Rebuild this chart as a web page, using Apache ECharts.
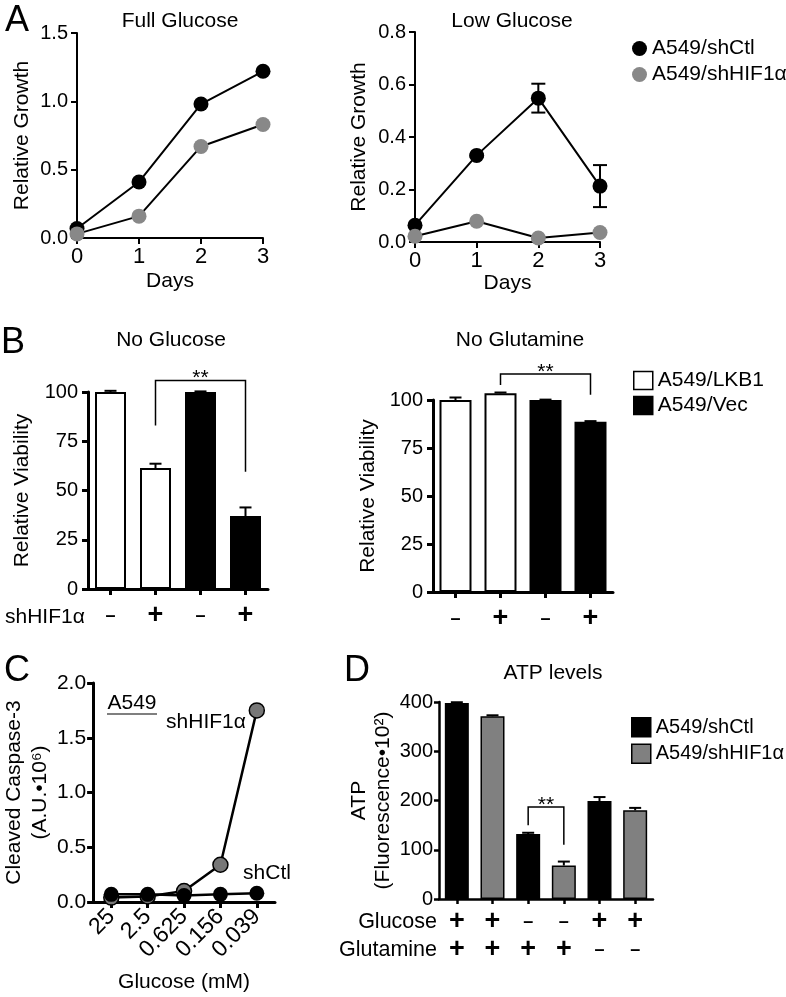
<!DOCTYPE html>
<html><head><meta charset="utf-8">
<script src="https://cdn.jsdelivr.net/npm/echarts@6/dist/echarts.min.js"></script>
<style>html,body{margin:0;padding:0;background:#fff}#c{width:786px;height:997px}</style>
</head><body><div id="c"></div>
<script>
// ---------- Panel A: growth ----------
const days = [0, 1, 2, 3];
const fullCtl = [0.07, 0.41, 0.98, 1.22];
const fullHif = [0.03, 0.16, 0.67, 0.83];
const lowCtl = [0.064, 0.33, 0.548, 0.213];
const lowCtlErr = [0.005, 0.005, 0.055, 0.08];
const lowHif = [0.022, 0.079, 0.015, 0.036];
// ---------- Panel B: viability ----------
const bGroups = ['A549/LKB1', 'A549/LKB1', 'A549/Vec', 'A549/Vec'];
const bShHIF = ['-', '+', '-', '+'];
const noGlc = [100, 61.4, 100, 37];
const noGlcErr = [0.6, 2.2, 0.3, 4.4];
const noGln = [100, 103.5, 100, 88.7];
const noGlnErr = [1.3, 0.4, 0.2, 0.3];
// ---------- Panel C: caspase ----------
const glucoseMM = ['25', '2.5', '0.625', '0.156', '0.039'];
const cCtl = [0.07, 0.07, 0.06, 0.07, 0.08];
const cHif = [0.04, 0.05, 0.1, 0.34, 1.75];
// ---------- Panel D: ATP ----------
const dGroups = ['A549/shCtl', 'A549/shHIF1α', 'A549/shCtl', 'A549/shHIF1α', 'A549/shCtl', 'A549/shHIF1α'];
const dGlucose = ['+', '+', '-', '-', '+', '+'];
const dGlutamine = ['+', '+', '+', '+', '-', '-'];
const atp = [398, 371, 132, 68, 199, 180];
const atpErr = [1.5, 2, 2.5, 8, 8, 5];
// significance brackets: [leftCat, rightCat, leftFoot, rightFoot, top]
const bracketB1 = [1, 3, 83, 59.5, 105.8];
const bracketB2 = [1, 3, 107.8, 102.7, 113.6];
const bracketD = [2, 3, 150, 110, 187];

const FONT = '"Liberation Sans", Arial, Helvetica, sans-serif';
const BLK = '#000';
const NAME_FS = 21;

function yAx(o) {
  return {
    type: 'value', gridIndex: o.g, min: o.min, max: o.max, interval: o.iv,
    axisLine: { show: true, onZero: false, lineStyle: { color: BLK, width: o.lw } },
    axisTick: { show: true, length: o.tl || 6, lineStyle: { color: BLK, width: o.lw } },
    splitLine: { show: false },
    axisLabel: { color: BLK, fontSize: o.fs || 20, margin: o.m || 9, fontFamily: FONT, formatter: o.fmt },
    name: o.name, nameLocation: 'middle', nameGap: o.ng, nameRotate: 90,
    nameTextStyle: { color: BLK, fontSize: NAME_FS, fontFamily: FONT, lineHeight: o.lh || 22 }
  };
}
function catX(o) {
  return {
    type: 'category', gridIndex: o.g, data: o.data, boundaryGap: true,
    axisLine: { show: true, onZero: false, lineStyle: { color: BLK, width: o.lw } },
    axisTick: { show: true, alignWithLabel: true, length: o.tl || 6, lineStyle: { color: BLK, width: o.lw } },
    splitLine: { show: false },
    axisLabel: Object.assign({ color: BLK, fontFamily: FONT, interval: 0 }, o.label),
    name: o.name, nameLocation: 'middle', nameGap: o.ng,
    nameTextStyle: { color: BLK, fontSize: NAME_FS, fontFamily: FONT }
  };
}
function valX(o) {
  return {
    type: 'value', gridIndex: o.g, min: 0, max: 3, interval: 1,
    axisLine: { show: true, onZero: false, lineStyle: { color: BLK, width: 2 } },
    axisTick: { show: true, length: 6, lineStyle: { color: BLK, width: 2 } },
    splitLine: { show: false },
    axisLabel: { color: BLK, fontSize: 22, margin: 8, fontFamily: FONT },
    name: 'Days', nameLocation: 'middle', nameGap: o.ng,
    nameTextStyle: { color: BLK, fontSize: NAME_FS, fontFamily: FONT }
  };
}
function errSeries(xi, data, both, cap, lw) {
  return {
    type: 'custom', xAxisIndex: xi, yAxisIndex: xi, z: 5, clip: false, silent: true,
    data: data,
    renderItem: function (params, api) {
      const x = api.value(0), v = api.value(1), e = api.value(2);
      const top = api.coord([x, v + e]);
      const bot = api.coord([x, both ? v - e : v]);
      const st = { stroke: BLK, lineWidth: lw };
      const ch = [
        { type: 'line', shape: { x1: top[0], y1: top[1], x2: bot[0], y2: bot[1] }, style: st },
        { type: 'line', shape: { x1: top[0] - cap / 2, y1: top[1], x2: top[0] + cap / 2, y2: top[1] }, style: st }
      ];
      if (both) ch.push({ type: 'line', shape: { x1: bot[0] - cap / 2, y1: bot[1], x2: bot[0] + cap / 2, y2: bot[1] }, style: st });
      return { type: 'group', children: ch };
    }
  };
}
function bracketSeries(xi, b) {
  return {
    type: 'custom', xAxisIndex: xi, yAxisIndex: xi, z: 6, clip: false, silent: true,
    data: [[b[0], b[4], b[1], b[2], b[3]]],
    renderItem: function (params, api) {
      const x1 = api.value(0), top = api.value(1), x2 = api.value(2), yl = api.value(3), yr = api.value(4);
      const p1 = api.coord([x1, yl]), p2 = api.coord([x1, top]), p3 = api.coord([x2, top]), p4 = api.coord([x2, yr]);
      return { type: 'group', children: [
        { type: 'polyline', shape: { points: [p1, p2, p3, p4] }, style: { stroke: BLK, lineWidth: 1.5, fill: null } },
        { type: 'text', style: { text: '**', x: (p2[0] + p3[0]) / 2, y: p2[1] - 2, textAlign: 'center', textVerticalAlign: 'middle', font: '21px ' + FONT, fill: BLK } }
      ] };
    }
  };
}
function signLabel(arr) {
  return function (v, i) { return arr[i] === '+' ? '{p|+}' : '{m|–}'; };
}
const signRich = { p: { fontSize: 27, fontWeight: 'bold', color: BLK, fontFamily: FONT, lineHeight: 28 },
                   m: { fontSize: 18, fontWeight: 'bold', color: BLK, fontFamily: FONT, lineHeight: 28 } };

const bCats = bGroups.map((g, i) => g + ' ' + bShHIF[i]);
const dCats = dGroups.map((g, i) => g + ' Glc' + dGlucose[i] + ' Gln' + dGlutamine[i]);
const f1 = v => v.toFixed(1);

function txt(text, x, y, size, align) {
  return { type: 'text', silent: true, style: { text: text, x: x, y: y, font: (size || 21) + 'px ' + FONT, fill: BLK, textAlign: align || 'center', textVerticalAlign: 'middle' } };
}

const option = {
  animation: false,
  backgroundColor: '#fff',
  textStyle: { fontFamily: FONT, color: BLK },
  grid: [
    { left: 77, top: 33, width: 186, height: 205 },
    { left: 415, top: 32, width: 185, height: 210 },
    { left: 88, top: 392, width: 180, height: 197 },
    { left: 433, top: 400, width: 180, height: 192 },
    { left: 88, top: 683, width: 187, height: 219 },
    { left: 439, top: 702, width: 214, height: 197 }
  ],
  xAxis: [
    valX({ g: 0, ng: 33 }),
    valX({ g: 1, ng: 29 }),
    catX({ g: 2, data: bCats, lw: 3, label: { formatter: signLabel(bShHIF), rich: signRich, margin: 13 } }),
    catX({ g: 3, data: bCats, lw: 3, label: { formatter: signLabel(bShHIF), rich: signRich, margin: 13 } }),
    catX({ g: 4, data: glucoseMM, lw: 3, name: 'Glucose (mM)', ng: 70, label: { rotate: 45, fontSize: 23, margin: 11 } }),
    catX({ g: 5, data: dCats, lw: 2.5, tl: 5, label: { margin: 9, rich: signRich,
      formatter: function (v, i) { return signLabel(dGlucose)(v, i) + '\n' + signLabel(dGlutamine)(v, i); } } })
  ],
  yAxis: [
    yAx({ g: 0, min: 0, max: 1.5, iv: 0.5, lw: 2, fmt: f1, name: 'Relative Growth', ng: 44, fs: 20 }),
    yAx({ g: 1, min: 0, max: 0.8, iv: 0.2, lw: 2, fmt: f1, name: 'Relative Growth', ng: 45, fs: 20 }),
    yAx({ g: 2, min: 0, max: 100, iv: 25, lw: 3, name: 'Relative Viability', ng: 55, fs: 20, m: 10 }),
    yAx({ g: 3, min: 0, max: 100, iv: 25, lw: 3, name: 'Relative Viability', ng: 54, fs: 20, m: 10 }),
    yAx({ g: 4, min: 0, max: 2, iv: 0.5, lw: 3, fmt: f1, name: 'Cleaved Caspase-3\n(A.U.•10⁶)', ng: 40, fs: 21, m: 7, lh: 26 }),
    yAx({ g: 5, min: 0, max: 400, iv: 100, lw: 2.5, name: 'ATP\n(Fluorescence•10²)', ng: 44, fs: 20, m: 6, tl: 5, lh: 24 })
  ],
  legend: [
    { selectedMode: false, orient: 'vertical', left: 627, top: 33, itemWidth: 15, itemHeight: 15, itemGap: 5,
      textStyle: { fontSize: 21, color: BLK, fontFamily: FONT },
      data: [{ name: 'A549/shCtl', icon: 'circle', itemStyle: { color: BLK } },
             { name: 'A549/shHIF1α', icon: 'circle', itemStyle: { color: '#888' } }] },
    { selectedMode: false, orient: 'vertical', left: 628, top: 365, itemWidth: 19, itemHeight: 18, itemGap: 4,
      textStyle: { fontSize: 21, color: BLK, fontFamily: FONT },
      data: [{ name: 'A549/LKB1', icon: 'rect', itemStyle: { color: '#fff', borderColor: BLK, borderWidth: 1.5 } },
             { name: 'A549/Vec', icon: 'rect', itemStyle: { color: BLK, borderColor: BLK, borderWidth: 1.5 } }] },
    { selectedMode: false, orient: 'vertical', left: 626, top: 712, itemWidth: 19, itemHeight: 19, itemGap: 6,
      textStyle: { fontSize: 20, color: BLK, fontFamily: FONT },
      formatter: n => n.replace('D:', ''),
      data: [{ name: 'D:A549/shCtl', icon: 'rect', itemStyle: { color: BLK, borderColor: BLK, borderWidth: 1.5 } },
             { name: 'D:A549/shHIF1α', icon: 'rect', itemStyle: { color: '#808080', borderColor: BLK, borderWidth: 1.5 } }] }
  ],
  series: [
    // Panel A full glucose
    { type: 'line', name: 'A549/shCtl', xAxisIndex: 0, yAxisIndex: 0, clip: false, data: days.map((d, i) => [d, fullCtl[i]]),
      symbol: 'circle', symbolSize: 15, lineStyle: { color: BLK, width: 2 }, itemStyle: { color: BLK }, z: 3 },
    { type: 'line', name: 'A549/shHIF1α', xAxisIndex: 0, yAxisIndex: 0, clip: false, data: days.map((d, i) => [d, fullHif[i]]),
      symbol: 'circle', symbolSize: 15, lineStyle: { color: BLK, width: 2 }, itemStyle: { color: '#888' }, z: 4 },
    // Panel A low glucose
    errSeries(1, days.map((d, i) => [d, lowCtl[i], lowCtlErr[i]]), true, 14, 2),
    { type: 'line', name: 'A549/shCtl', xAxisIndex: 1, yAxisIndex: 1, clip: false, data: days.map((d, i) => [d, lowCtl[i]]),
      symbol: 'circle', symbolSize: 15, lineStyle: { color: BLK, width: 2 }, itemStyle: { color: BLK }, z: 3 },
    { type: 'line', name: 'A549/shHIF1α', xAxisIndex: 1, yAxisIndex: 1, clip: false, data: days.map((d, i) => [d, lowHif[i]]),
      symbol: 'circle', symbolSize: 15, lineStyle: { color: BLK, width: 2 }, itemStyle: { color: '#888' }, z: 4 },
    // Panel B no glucose
    { type: 'bar', name: 'A549/LKB1', xAxisIndex: 2, yAxisIndex: 2, barWidth: 31, barGap: '-100%', clip: false,
      data: noGlc.map((v, i) => bGroups[i] === 'A549/LKB1' ? v : '-'), itemStyle: { color: '#fff', borderColor: BLK, borderWidth: 2 } },
    { type: 'bar', name: 'A549/Vec', xAxisIndex: 2, yAxisIndex: 2, barWidth: 31, barGap: '-100%', clip: false,
      data: noGlc.map((v, i) => bGroups[i] === 'A549/Vec' ? v : '-'), itemStyle: { color: BLK, borderColor: BLK, borderWidth: 2 } },
    errSeries(2, noGlc.map((v, i) => [i, v, noGlcErr[i]]), false, 12, 2),
    bracketSeries(2, bracketB1),
    // Panel B no glutamine
    { type: 'bar', name: 'B2:A549/LKB1', xAxisIndex: 3, yAxisIndex: 3, barWidth: 32, barGap: '-100%', clip: false,
      data: noGln.map((v, i) => bGroups[i] === 'A549/LKB1' ? v : '-'), itemStyle: { color: '#fff', borderColor: BLK, borderWidth: 2 } },
    { type: 'bar', name: 'B2:A549/Vec', xAxisIndex: 3, yAxisIndex: 3, barWidth: 32, barGap: '-100%', clip: false,
      data: noGln.map((v, i) => bGroups[i] === 'A549/Vec' ? v : '-'), itemStyle: { color: BLK, borderColor: BLK, borderWidth: 2 } },
    errSeries(3, noGln.map((v, i) => [i, v, noGlnErr[i]]), false, 12, 2),
    bracketSeries(3, bracketB2),
    // Panel C
    { type: 'line', name: 'C:shHIF1α', xAxisIndex: 4, yAxisIndex: 4, clip: false, data: cHif,
      symbol: 'circle', symbolSize: 15, lineStyle: { color: BLK, width: 2.5 }, itemStyle: { color: '#777', borderColor: BLK, borderWidth: 1.5 }, z: 3 },
    { type: 'line', name: 'C:shCtl', xAxisIndex: 4, yAxisIndex: 4, clip: false, data: cCtl,
      symbol: 'circle', symbolSize: 15, lineStyle: { color: BLK, width: 2.5 }, itemStyle: { color: BLK }, z: 4 },
    // Panel D
    { type: 'bar', name: 'D:A549/shCtl', xAxisIndex: 5, yAxisIndex: 5, barWidth: 24, barGap: '-100%', clip: false,
      data: atp.map((v, i) => dGroups[i] === 'A549/shCtl' ? v : '-'), itemStyle: { color: BLK, borderColor: BLK, borderWidth: 1.5 } },
    { type: 'bar', name: 'D:A549/shHIF1α', xAxisIndex: 5, yAxisIndex: 5, barWidth: 24, barGap: '-100%', clip: false,
      data: atp.map((v, i) => dGroups[i] === 'A549/shHIF1α' ? v : '-'), itemStyle: { color: '#808080', borderColor: BLK, borderWidth: 1.5 } },
    errSeries(5, atp.map((v, i) => [i, v, atpErr[i]]), false, 12, 2),
    bracketSeries(5, bracketD)
  ],
  graphic: [
    txt('A', 17, 21, 36),
    txt('B', 13, 343, 36),
    txt('C', 17, 671, 36),
    txt('D', 357, 671, 36),
    txt('Full Glucose', 180, 21, 21),
    txt('Low Glucose', 512, 21, 21),
    txt('No Glucose', 171, 340, 21),
    txt('No Glutamine', 520, 340, 21),
    txt('ATP levels', 553, 673, 21),
    txt('shHIF1α', 5, 617, 21, 'left'),
    txt('Glucose', 437, 922, 21.5, 'right'),
    txt('Glutamine', 437, 950, 21.5, 'right'),
    txt('A549', 132, 703, 21),
    { type: 'line', silent: true, shape: { x1: 107, y1: 714, x2: 157, y2: 714 }, style: { stroke: BLK, lineWidth: 1.2 } },
    txt('shHIF1α', 206, 722, 21),
    txt('shCtl', 267, 873, 21)
  ]
};
const chart = echarts.init(document.getElementById('c'));
chart.setOption(option);
</script>
</body></html>
